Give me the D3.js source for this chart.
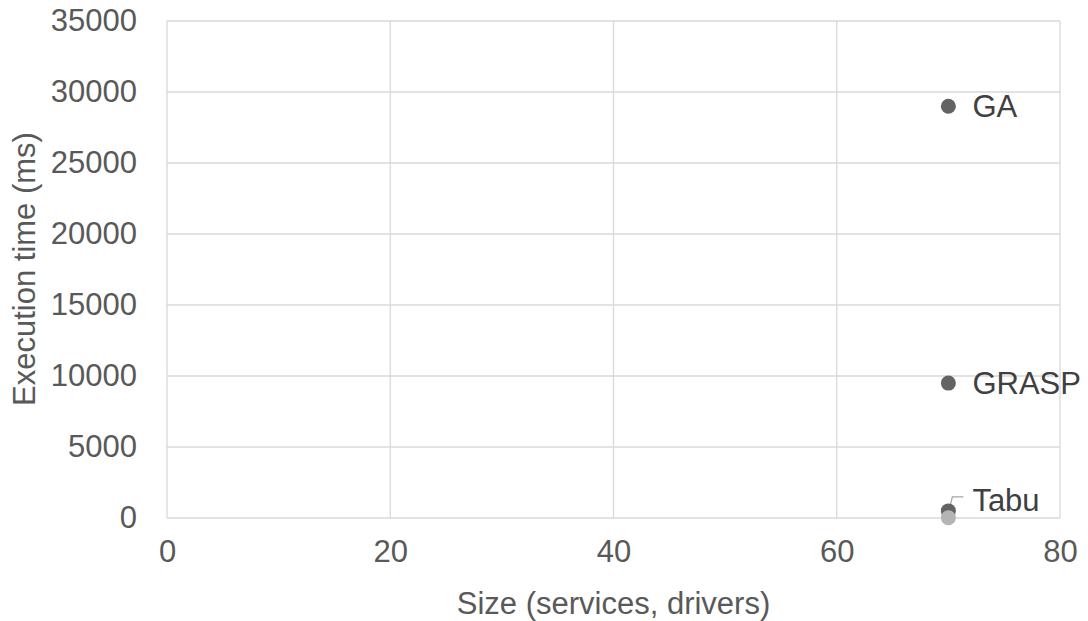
<!DOCTYPE html>
<html><head><meta charset="utf-8">
<script src="https://cdn.jsdelivr.net/npm/d3@7"></script>
<style>body{margin:0;background:#fff;}svg{display:block;}</style>
</head><body>
<svg id="c" width="1088" height="621"></svg>
<script>
const xTicks = [0, 20, 40, 60, 80];
const yTicks = [0, 5000, 10000, 15000, 20000, 25000, 30000, 35000];
const labels = ["GA", "GRASP", "Tabu"];
const sizes = [70, 70, 70];
const times = [29000, 9500, 500];
const refSizes = [70];
const refTimes = [20];

const svg = d3.select("#c");
const m = {l:167, r:1060, t:21, b:518};
const x = d3.scaleLinear().domain([0,80]).range([m.l, m.r]);
const y = d3.scaleLinear().domain([0,35000]).range([m.b, m.t]);
const txt = "#595959", grid = "#d9d9d9";
const font = "'Liberation Sans', Arial, sans-serif";

// grid
svg.append("g").selectAll("line.h").data(yTicks).join("line")
  .attr("x1", m.l).attr("x2", m.r).attr("y1", d=>y(d)).attr("y2", d=>y(d))
  .attr("stroke", grid).attr("stroke-width", 1.3);
svg.append("g").selectAll("line.v").data(xTicks).join("line")
  .attr("x1", d=>x(d)).attr("x2", d=>x(d)).attr("y1", m.t).attr("y2", m.b)
  .attr("stroke", grid).attr("stroke-width", 1.3);

// axes labels via d3 axes
const ax = svg.append("g").attr("transform", `translate(0,${m.b})`)
  .call(d3.axisBottom(x).tickValues(xTicks).tickFormat(d3.format("d")).tickSize(0).tickPadding(22));
ax.select(".domain").remove();
ax.selectAll("text").attr("fill", txt).style("font-family", font).style("font-size", "31px");

const ay = svg.append("g").attr("transform", `translate(${m.l},0)`)
  .call(d3.axisLeft(y).tickValues(yTicks).tickFormat(d3.format("d")).tickSize(0).tickPadding(30));
ay.select(".domain").remove();
ay.selectAll("text").attr("fill", txt).style("font-family", font).style("font-size", "31px");

// axis titles
svg.append("text").attr("x", (m.l+m.r)/2).attr("y", 614).attr("text-anchor","middle")
  .attr("fill", txt).style("font-family", font).style("font-size","31px").text("Size (services, drivers)");
svg.append("text").attr("transform", "translate(35,269) rotate(-90)").attr("text-anchor","middle")
  .attr("fill", txt).style("font-family", font).style("font-size","31px").text("Execution time (ms)");

// leader line for Tabu
svg.append("path")
  .attr("d", `M${x(70)+2},${y(times[2])-6} L${x(70)+4},${y(times[2])-14} L${x(70)+15},${y(times[2])-14}`)
  .attr("fill","none").attr("stroke","#a6a6a6").attr("stroke-width",1.3);

// points
svg.append("g").selectAll("circle").data(times).join("circle")
  .attr("cx", (d,i)=>x(sizes[i])).attr("cy", d=>y(d)).attr("r", 7.5).attr("fill", "#636363");
svg.append("g").selectAll("circle").data(refTimes).join("circle")
  .attr("cx", (d,i)=>x(refSizes[i])).attr("cy", d=>y(d)).attr("r", 7.5).attr("fill", "#b4b4b4");

// data labels
const lblDy = [0, 0, -11];
svg.append("g").selectAll("text").data(labels).join("text")
  .attr("x", (d,i)=>x(sizes[i])+24).attr("y", (d,i)=>y(times[i])+lblDy[i]).attr("dy","0.35em")
  .attr("fill", "#404040").style("font-family", font).style("font-size","31px").text(d=>d);
</script>
</body></html>
